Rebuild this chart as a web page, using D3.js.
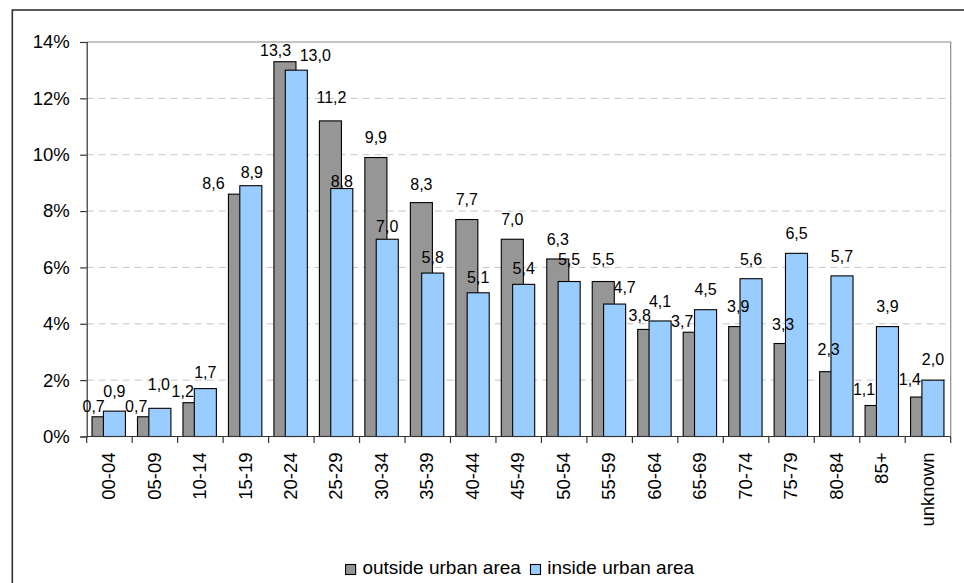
<!DOCTYPE html>
<html>
<head>
<meta charset="utf-8">
<script src="https://cdn.jsdelivr.net/npm/d3@7"></script>
<style>
  html, body { margin: 0; padding: 0; background: #fff; }
  svg { display: block; font-family: "Liberation Sans", Arial, Helvetica, sans-serif; }
</style>
</head>
<body>
<svg id="chart" width="964" height="583"></svg>
<script>
// Age groups and share of cases (%) by residence
const ageGroups = ["00-04","05-09","10-14","15-19","20-24","25-29","30-34","35-39","40-44","45-49",
                   "50-54","55-59","60-64","65-69","70-74","75-79","80-84","85+","unknown"];
const outsideUrban = [0.7,0.7,1.2,8.6,13.3,11.2,9.9,8.3,7.7,7.0,6.3,5.5,3.8,3.7,3.9,3.3,2.3,1.1,1.4];
const insideUrban  = [0.9,1.0,1.7,8.9,13.0,8.8,7.0,5.8,5.1,5.4,5.5,4.7,4.1,4.5,5.6,6.5,5.7,3.9,2.0];
const seriesNames  = ["outside urban area","inside urban area"];
const yTicks       = [0,2,4,6,8,10,12,14];

// Hand placement of value labels: [horizontal shift, lift above bar top] in px
const outsideLabelPlace = [[-9.4,5],[-12.3,5],[-11.3,6],[-26,5],[-9.3,5.4],[1,18],[0,14.5],[0,13],[0,14.5],
                           [0,14.5],[0,14],[0,16.7],[-9,8],[-12,5.6],[-1.5,15],[-2,14],[-2,16.8],[-12,10.5],[-11.7,12]];
const insideLabelPlace  = [[0,14.5],[-1,18],[0,11],[1,8],[19,8.8],[0,2],[0,7],[0,10],[0,10],
                           [0,10],[0,16.7],[10,11],[0,14.4],[0,14.8],[0,14],[0,14],[0,14],[0,15],[0,15]];

const colors = { outside: "#969696", inside: "#99ccff" };

const svg = d3.select("#chart");
const plot = { left: 86.7, right: 950.7, top: 42, bottom: 436.5 };

const x = d3.scaleBand().domain(ageGroups).range([plot.left, plot.right]).padding(0);
const y = d3.scaleLinear().domain([0, 14]).range([plot.bottom, plot.top]);
const bw = x.bandwidth();
const barW = bw * 0.485;
const greyOff = bw * 0.117;
const blueOff = greyOff + barW * 0.515;

const fmt = v => d3.format(".1f")(v).replace(".", ",");

// Outer chart frame (runs off the right and bottom edges)
svg.append("rect")
  .attr("x", 12.3).attr("y", 10)
  .attr("width", 1000).attr("height", 700)
  .attr("fill", "none").attr("stroke", "#333").attr("stroke-width", 1.6);

// Dashed gridlines
svg.append("g").selectAll("line")
  .data(yTicks.filter(t => t > 0 && t < 14))
  .join("line")
  .attr("x1", plot.left).attr("x2", plot.right)
  .attr("y1", d => y(d)).attr("y2", d => y(d))
  .attr("stroke", "#c4c4c4").attr("stroke-width", 1)
  .attr("stroke-dasharray", "7,5");

// Plot area top and right edges
svg.append("path")
  .attr("d", `M${plot.left},${y(14)}H${plot.right}V${plot.bottom}`)
  .attr("fill", "none").attr("stroke", "#8a8a8a").attr("stroke-width", 1.2);

// Bars
const gBars = svg.append("g");
gBars.selectAll("rect.outside")
  .data(outsideUrban)
  .join("rect")
  .attr("class", "outside")
  .attr("x", (d, i) => x(ageGroups[i]) + greyOff)
  .attr("y", d => y(d))
  .attr("width", barW)
  .attr("height", d => y(0) - y(d))
  .attr("fill", colors.outside).attr("stroke", "#000").attr("stroke-width", 1.1);

gBars.selectAll("rect.inside")
  .data(insideUrban)
  .join("rect")
  .attr("class", "inside")
  .attr("x", (d, i) => x(ageGroups[i]) + blueOff)
  .attr("y", d => y(d))
  .attr("width", barW)
  .attr("height", d => y(0) - y(d))
  .attr("fill", colors.inside).attr("stroke", "#000").attr("stroke-width", 1.1);

// Y axis
const yAxis = d3.axisLeft(y).tickValues(yTicks).tickSize(6.5).tickPadding(10.5)
  .tickFormat(d => d + "%");
const gy = svg.append("g").attr("transform", `translate(${plot.left},0)`).call(yAxis);
gy.select(".domain").attr("stroke", "#333").attr("stroke-width", 1.2);
gy.selectAll(".tick line").attr("stroke", "#333").attr("stroke-width", 1.2);
gy.selectAll(".tick text").attr("font-size", "18.5px").attr("fill", "#000")
  .attr("font-family", "Liberation Sans, Arial, sans-serif");

// X axis: ticks at category boundaries
const gx = svg.append("g");
gx.append("line")
  .attr("x1", plot.left).attr("x2", plot.right)
  .attr("y1", plot.bottom).attr("y2", plot.bottom)
  .attr("stroke", "#333").attr("stroke-width", 1.2);
gx.selectAll("line.tick")
  .data(d3.range(ageGroups.length + 1))
  .join("line")
  .attr("class", "tick")
  .attr("x1", i => plot.left + i * bw).attr("x2", i => plot.left + i * bw)
  .attr("y1", plot.bottom).attr("y2", plot.bottom + 6.5)
  .attr("stroke", "#333").attr("stroke-width", 1.2);
gx.selectAll("text")
  .data(ageGroups)
  .join("text")
  .attr("transform", d => `translate(${x(d) + bw / 2 - 0.8},${plot.bottom + 16}) rotate(-90)`)
  .attr("text-anchor", "end")
  .attr("dy", "0.35em")
  .attr("font-size", "18.5px")
  .attr("fill", "#000")
  .text(d => d);

// Value labels
const gLab = svg.append("g").attr("font-size", "16px").attr("fill", "#000").attr("text-anchor", "middle");
gLab.selectAll("text.outside")
  .data(outsideUrban)
  .join("text")
  .attr("class", "outside")
  .attr("x", (d, i) => x(ageGroups[i]) + greyOff + barW / 2 + outsideLabelPlace[i][0])
  .attr("y", (d, i) => y(d) - outsideLabelPlace[i][1])
  .text(d => fmt(d));
gLab.selectAll("text.inside")
  .data(insideUrban)
  .join("text")
  .attr("class", "inside")
  .attr("x", (d, i) => x(ageGroups[i]) + blueOff + barW / 2 + insideLabelPlace[i][0])
  .attr("y", (d, i) => y(d) - insideLabelPlace[i][1])
  .text(d => fmt(d));

// Legend
const legendItems = [
  { name: seriesNames[0], color: colors.outside, x: 345.6 },
  { name: seriesNames[1], color: colors.inside, x: 530.5 }
];
const gLeg = svg.append("g");
legendItems.forEach(it => {
  gLeg.append("rect")
    .attr("x", it.x).attr("y", 564.5).attr("width", 10).attr("height", 10)
    .attr("fill", it.color).attr("stroke", "#000").attr("stroke-width", 1.1);
  gLeg.append("text")
    .attr("x", it.x + 16.8).attr("y", 574.3)
    .attr("font-size", "19px").attr("fill", "#000")
    .text(it.name);
});
</script>
</body>
</html>
